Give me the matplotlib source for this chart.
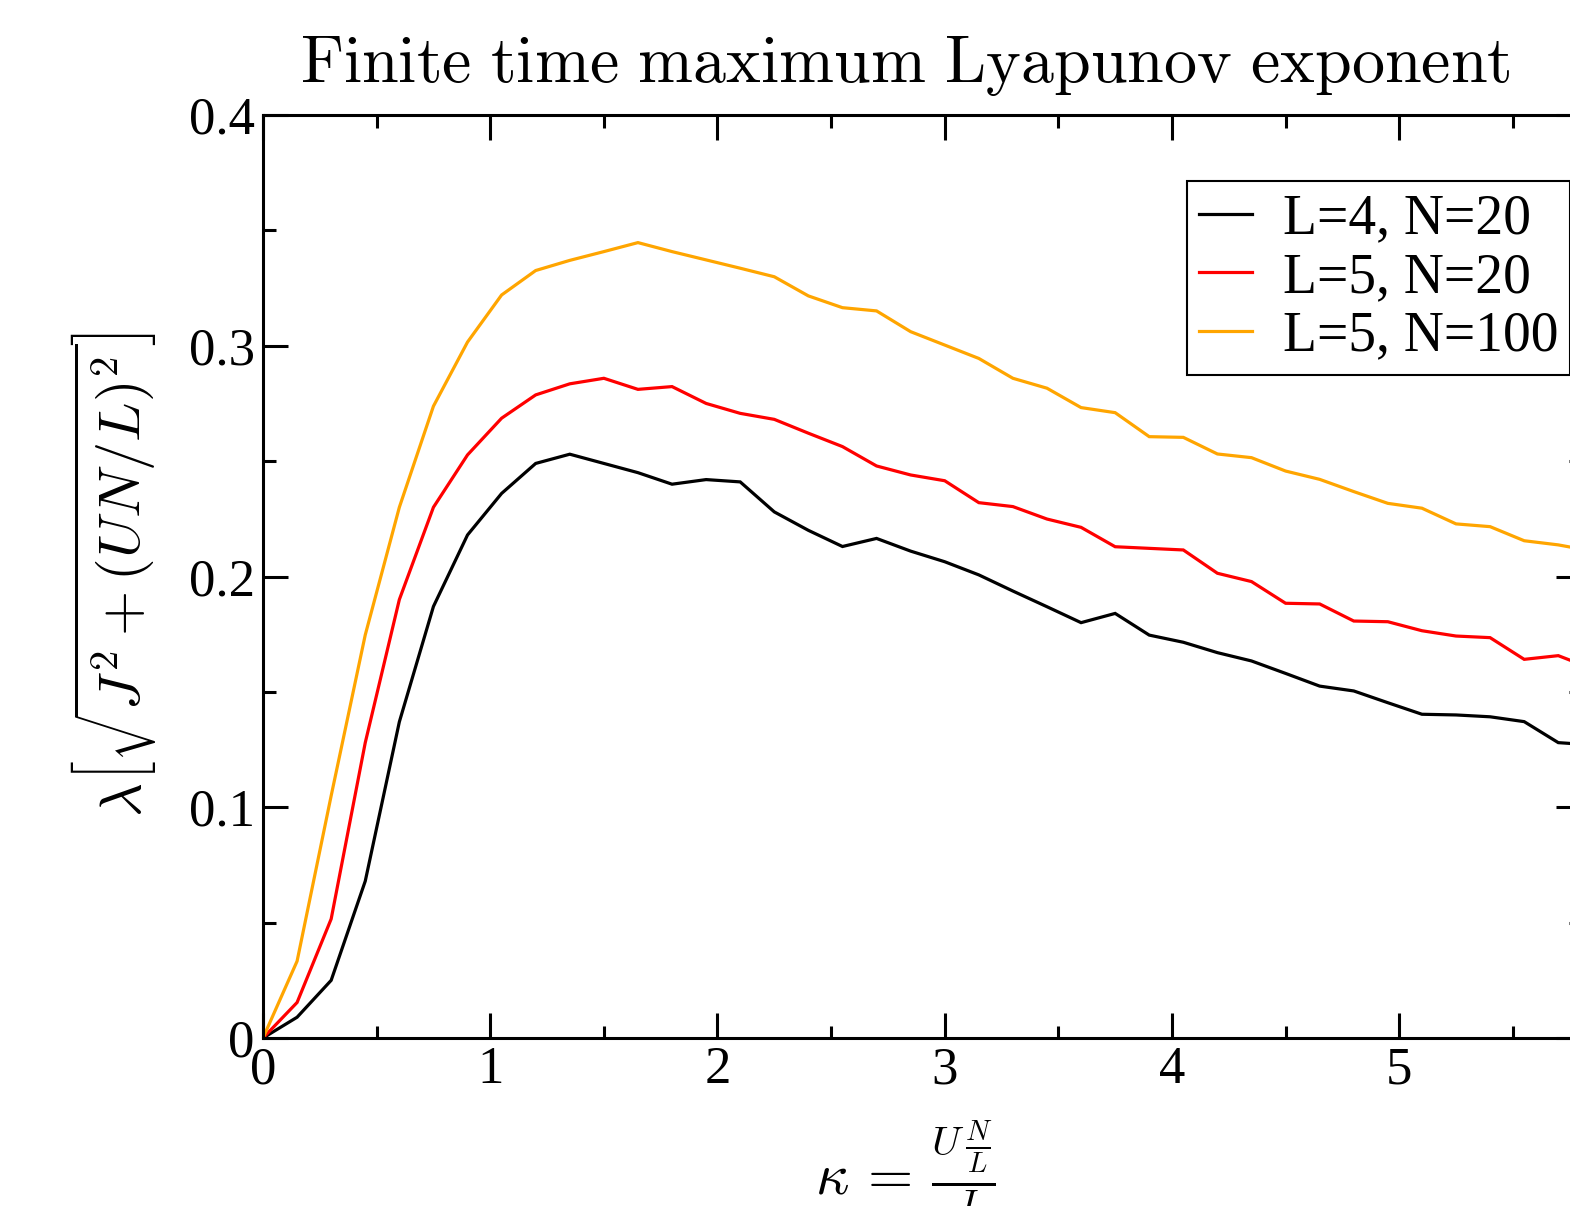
import matplotlib
matplotlib.use("Agg")
import matplotlib.pyplot as plt
from matplotlib.ticker import MultipleLocator, FixedLocator

plt.rcParams['font.family'] = ['Liberation Serif', 'DejaVu Serif']
plt.rcParams['mathtext.fontset'] = 'cm'

kappa = [0.00, 0.15, 0.30, 0.45, 0.60, 0.75, 0.90, 1.05, 1.20, 1.35,
         1.50, 1.65, 1.80, 1.95, 2.10, 2.25, 2.40, 2.55, 2.70, 2.85,
         3.00, 3.15, 3.30, 3.45, 3.60, 3.75, 3.90, 4.05, 4.20, 4.35,
         4.50, 4.65, 4.80, 4.95, 5.10, 5.25, 5.40, 5.55, 5.70, 5.85]

lam_L4_N20 = [0, 0.009, 0.025, 0.068, 0.137, 0.187, 0.218, 0.236, 0.249, 0.253,
              0.249, 0.245, 0.240, 0.242, 0.241, 0.228, 0.220, 0.213, 0.2165, 0.211,
              0.2064, 0.2007, 0.1937, 0.1869, 0.180, 0.184, 0.1746, 0.1715, 0.167, 0.1634,
              0.158, 0.1525, 0.1504, 0.1453, 0.1403, 0.140, 0.1392, 0.1371, 0.128, 0.127]

lam_L5_N20 = [0, 0.0154, 0.0516, 0.128, 0.190, 0.230, 0.2527, 0.2686, 0.2787, 0.2835,
              0.2859, 0.2811, 0.2823, 0.275, 0.2707, 0.2681, 0.2621, 0.2563, 0.2479, 0.244,
              0.2415, 0.232, 0.2303, 0.2249, 0.2213, 0.2129, 0.2122, 0.2115, 0.2014, 0.1978,
              0.1884, 0.1881, 0.1807, 0.1804, 0.1765, 0.1742, 0.1735, 0.1641, 0.1657, 0.160]

lam_L5_N100 = [0, 0.0333, 0.105, 0.1747, 0.230, 0.2738, 0.3016, 0.322, 0.3326, 0.337,
               0.3408, 0.3447, 0.3408, 0.3372, 0.3336, 0.3299, 0.3216, 0.3165, 0.3151, 0.3061,
               0.3003, 0.2945, 0.2859, 0.2816, 0.2732, 0.271, 0.2606, 0.2603, 0.2531, 0.2515,
               0.2457, 0.2421, 0.2368, 0.2317, 0.2296, 0.2228, 0.2216, 0.2155, 0.2137, 0.211]

labels = ["L=4, N=20", "L=5, N=20", "L=5, N=100"]
colors = ["#000000", "#ff0000", "#ffa500"]

x_major = [0, 1, 2, 3, 4, 5]
x_labels = ["0", "1", "2", "3", "4", "5"]
y_major = [0, 0.1, 0.2, 0.3, 0.4]
y_labels = ["0", "0.1", "0.2", "0.3", "0.4"]

W, H = 1570, 1206
fig = plt.figure(figsize=(W / 100, H / 100), dpi=100)
left, right, top, bottom = 263, 1581, 115, 1038
ax = fig.add_axes([left / W, 1 - bottom / H, (right - left) / W, (bottom - top) / H])

for y, lab, c in zip([lam_L4_N20, lam_L5_N20, lam_L5_N100], labels, colors):
    ax.plot(kappa, y, color=c, lw=2.3, label=lab, solid_joinstyle='miter')

ax.set_xlim(0, 5.8)
ax.set_ylim(0, 0.4)
ax.xaxis.set_major_locator(FixedLocator(x_major))
ax.set_xticklabels(x_labels)
ax.xaxis.set_minor_locator(MultipleLocator(0.5))
ax.yaxis.set_major_locator(FixedLocator(y_major))
ax.set_yticklabels(y_labels)
ax.yaxis.set_minor_locator(MultipleLocator(0.05))
ax.tick_params(which='both', direction='in', top=True, right=True, width=2.2,
               labelsize=38, colors='black')
ax.tick_params(which='major', length=18, pad=6)
ax.tick_params(which='minor', length=9)
for s in ax.spines.values():
    s.set_linewidth(2.2)

leg = ax.legend(loc='upper left', bbox_to_anchor=(1187 / W, 1 - 181 / H),
                bbox_transform=fig.transFigure, borderaxespad=0, fontsize=40,
                frameon=True, fancybox=False, edgecolor='black', framealpha=1,
                handlelength=0.95, handletextpad=0.55, labelspacing=0.12,
                borderpad=0.22)
leg.get_frame().set_linewidth(1.5)

fig.text(905 / W, 1 - 82 / H, r'$\mathrm{Finite\ time\ maximum\ Lyapunov\ exponent}$',
         ha='center', va='baseline', fontsize=47.5)
fig.text(113 / W, 1 - 575 / H, r'$\lambda\left[\sqrt{J^2+(UN/L)^2}\right]$',
         rotation=90, ha='center', va='center', fontsize=42)
fig.text(905 / W, 1 - 1194 / H, r'$\kappa\,=\,\frac{U\,\frac{N}{L}}{J}$',
         ha='center', va='baseline', fontsize=42)

fig.savefig("out.png", dpi=100)
